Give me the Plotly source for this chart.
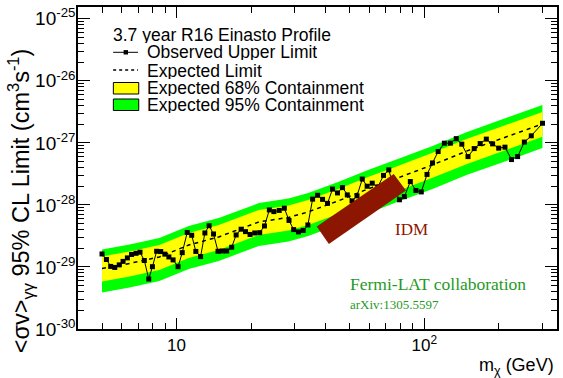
import plotly.graph_objects as go

# Observed 95% CL upper limit on <sigma v>_{gamma gamma} (cm^3 s^-1) vs WIMP mass (GeV)
obs_mass = [5.00, 5.21, 5.42, 5.63, 5.87, 6.08, 6.33, 6.58, 6.86, 7.12,
            7.41, 7.72, 7.99, 8.31, 8.63, 8.97, 9.31, 9.68, 10.14, 10.54,
            11.04, 11.51, 11.96, 12.50, 13.01, 13.53, 14.10, 14.70, 15.29, 15.93,
            16.69, 17.40, 18.22, 18.98, 19.80, 20.68, 21.66, 22.64, 23.69, 24.71,
            25.97, 27.23, 28.44, 29.70, 31.05, 32.45, 33.89, 35.42, 37.10, 38.85,
            40.69, 42.61, 44.63, 46.73, 48.90, 51.11, 53.52, 56.21, 58.81, 61.65,
            64.97, 68.48, 71.92, 75.31, 79.38, 83.13, 87.86, 92.53, 97.27, 102.6,
            108.0, 113.8, 120.6, 127.5, 134.7, 141.8, 150.2, 159.1, 168.2, 178.1,
            188.8, 199.8, 211.8, 225.1, 238.2, 253.6, 270.5, 300.3]
obs_limit = [1.62e-29, 1.32e-29, 1.02e-29, 9.82e-30, 1.08e-29, 1.23e-29, 1.40e-29, 1.59e-29, 1.66e-29, 1.73e-29,
             1.27e-29, 6.39e-30, 1.01e-29, 1.79e-29, 1.77e-29, 1.61e-29, 1.45e-29, 1.30e-29, 1.01e-29, 1.70e-29,
             3.60e-29, 3.24e-29, 1.78e-29, 1.47e-29, 3.53e-29, 4.62e-29, 3.40e-29, 1.79e-29, 1.81e-29, 1.81e-29,
             2.08e-29, 3.28e-29, 4.06e-29, 3.71e-29, 3.34e-29, 3.53e-29, 3.57e-29, 4.58e-29, 8.30e-29, 7.80e-29,
             8.15e-29, 8.85e-29, 5.62e-29, 4.00e-29, 3.67e-29, 3.88e-29, 4.75e-29, 1.24e-28, 1.43e-28, 1.23e-28,
             1.06e-28, 1.80e-28, 1.56e-28, 1.90e-28, 1.45e-28, 1.16e-28, 1.40e-28, 2.61e-28, 2.00e-28, 2.24e-28,
             1.95e-28, 2.99e-28, 3.67e-28, 1.88e-28, 1.21e-28, 1.36e-28, 2.38e-28, 1.71e-28, 1.62e-28, 3.10e-28,
             4.75e-28, 7.25e-28, 9.89e-28, 9.89e-28, 1.17e-27, 9.53e-28, 6.01e-28, 8.09e-28, 9.75e-28, 1.15e-27,
             9.64e-28, 8.22e-28, 8.53e-28, 5.38e-28, 6.01e-28, 1.03e-27, 1.30e-27, 2.07e-27]

# Expected limit and containment bands
band_mass = [5.0, 6.46, 8.52, 11.2, 14.8, 18.7, 21.5, 28.3, 34.0, 44.9, 59.3, 78.2, 108, 149, 197, 300]
expected = [9.46e-30, 1.14e-29, 1.45e-29, 2.26e-29, 3.05e-29, 4.34e-29, 5.32e-29, 6.28e-29,
            7.71e-29, 1.16e-28, 1.81e-28, 2.72e-28, 4.42e-28, 7.43e-28, 1.10e-27, 2.02e-27]
hi68 = [1.48e-29, 1.78e-29, 2.26e-29, 3.53e-29, 4.76e-29, 6.77e-29, 8.30e-29, 9.80e-29,
        1.20e-28, 1.81e-28, 2.82e-28, 4.24e-28, 6.90e-28, 1.16e-27, 1.72e-27, 3.15e-27]
lo68 = [5.84e-30, 7.03e-30, 8.95e-30, 1.39e-29, 1.88e-29, 2.68e-29, 3.28e-29, 3.87e-29,
        4.76e-29, 7.16e-29, 1.12e-28, 1.68e-28, 2.73e-28, 4.58e-28, 6.79e-28, 1.25e-27]
hi95 = [1.91e-29, 2.30e-29, 2.93e-29, 4.57e-29, 6.16e-29, 8.77e-29, 1.07e-28, 1.27e-28,
        1.56e-28, 2.34e-28, 3.66e-28, 5.49e-28, 8.93e-28, 1.50e-27, 2.22e-27, 4.08e-27]
lo95 = [3.88e-30, 4.67e-30, 5.95e-30, 9.27e-30, 1.25e-29, 1.78e-29, 2.18e-29, 2.57e-29,
        3.16e-29, 4.76e-29, 7.42e-29, 1.12e-28, 1.81e-28, 3.05e-28, 4.51e-28, 8.28e-28]

# IDM region (corners of the tilted box)
idm_mass = [36.8, 41.2, 84.4, 75.3]
idm_sigv = [4.47e-29, 2.35e-29, 1.70e-28, 3.16e-28]

y_ticks = [1e-30, 1e-29, 1e-28, 1e-27, 1e-26, 1e-25]
y_tick_text = ["10<sup>-30</sup>", "10<sup>-29</sup>", "10<sup>-28</sup>",
               "10<sup>-27</sup>", "10<sup>-26</sup>", "10<sup>-25</sup>"]
x_ticks = [10, 100]
x_tick_text = ["10", "10<sup>2</sup>"]

GREEN = "#00ff00"
YELLOW = "#ffff00"
IDM_RED = "#8c1600"
TEXT_GREEN = "#1f9a1f"
SANS = "Liberation Sans, Arial, Helvetica, sans-serif"
SERIF = "Liberation Serif, Times New Roman, serif"

fig = go.Figure()

fig.add_trace(go.Scatter(x=band_mass, y=lo95, mode="lines", line=dict(width=0, color=GREEN),
                         showlegend=False, hoverinfo="skip"))
fig.add_trace(go.Scatter(x=band_mass, y=hi95, mode="lines", line=dict(width=0, color=GREEN),
                         fill="tonexty", fillcolor=GREEN, showlegend=False, hoverinfo="skip"))
fig.add_trace(go.Scatter(x=band_mass, y=lo68, mode="lines", line=dict(width=0, color=YELLOW),
                         showlegend=False, hoverinfo="skip"))
fig.add_trace(go.Scatter(x=band_mass, y=hi68, mode="lines", line=dict(width=0, color=YELLOW),
                         fill="tonexty", fillcolor=YELLOW, showlegend=False, hoverinfo="skip"))
fig.add_trace(go.Scatter(x=band_mass, y=expected, mode="lines",
                         line=dict(color="black", width=1.5, dash="4px,4px"), showlegend=False))
fig.add_trace(go.Scatter(x=obs_mass, y=obs_limit, mode="lines+markers",
                         line=dict(color="black", width=1),
                         marker=dict(symbol="square", size=5, color="black"), showlegend=False))
fig.add_trace(go.Scatter(x=idm_mass + idm_mass[:1], y=idm_sigv + idm_sigv[:1], mode="lines",
                         fill="toself", fillcolor=IDM_RED, line=dict(width=0, color=IDM_RED),
                         showlegend=False))

# plot area in pixels: x 78..559, y 7..329
L, R, T, B = 78, 559, 7, 329


def px(xp):
    return (xp - L) / (R - L)


def py(yp):
    return (B - yp) / (B - T)


minor_y = [m * 10.0 ** e for e in range(-30, -24) for m in range(2, 10)]
minor_x = [m * 10.0 ** e for e in range(0, 3) for m in range(2, 10)]

fig.update_xaxes(type="log", range=[0.602, 2.536], tickmode="array", tickvals=x_ticks,
                 ticktext=x_tick_text, ticks="inside", ticklen=11, tickwidth=1, tickcolor="black",
                 showline=True, linecolor="black", linewidth=1.5, mirror="allticks",
                 showgrid=False, zeroline=False,
                 tickfont=dict(family=SANS, size=17, color="black"),
                 minor=dict(tickmode="array", tickvals=minor_x, ticks="inside", ticklen=6,
                            tickwidth=1, tickcolor="black", showgrid=False))
fig.update_yaxes(type="log", range=[-30, -24.81], tickmode="array", tickvals=y_ticks,
                 ticktext=y_tick_text, ticks="inside", ticklen=12, tickwidth=1, tickcolor="black",
                 showline=True, linecolor="black", linewidth=1.5, mirror="allticks",
                 showgrid=False, zeroline=False, ticklabelstandoff=-3,
                 tickfont=dict(family=SANS, size=19, color="black"),
                 minor=dict(tickmode="array", tickvals=minor_y, ticks="inside", ticklen=6,
                            tickwidth=1, tickcolor="black", showgrid=False))

legend_font = dict(family=SANS, size=17.5, color="black")
annotations = [
    dict(text="3.7 year R16 Einasto Profile", x=px(111.5), y=py(34.5), xanchor="left", yanchor="middle",
         font=legend_font, height=17),
    dict(text="Observed Upper Limit", x=px(145), y=py(52), xanchor="left", yanchor="middle",
         font=legend_font, height=17),
    dict(text="Expected Limit", x=px(145), y=py(70), xanchor="left", yanchor="middle",
         font=legend_font, height=17),
    dict(text="Expected 68% Containment", x=px(145), y=py(87.5), xanchor="left", yanchor="middle",
         font=legend_font, height=17),
    dict(text="Expected 95% Containment", x=px(145), y=py(104.5), xanchor="left", yanchor="middle",
         font=legend_font, height=17),
    dict(text="IDM", x=px(413), y=py(229), xanchor="center", yanchor="middle",
         font=dict(family=SERIF, size=17, color=IDM_RED)),
    dict(text="Fermi-LAT collaboration", x=px(349), y=py(283.5), xanchor="left", yanchor="middle",
         font=dict(family=SERIF, size=17.5, color=TEXT_GREEN), height=18),
    dict(text="arXiv:1305.5597", x=px(349), y=py(303.5), xanchor="left", yanchor="middle",
         font=dict(family=SERIF, size=13, color=TEXT_GREEN), height=14),
    dict(text="m<sub>χ</sub> (GeV)", x=px(558), y=py(366), xanchor="right", yanchor="middle",
         font=dict(family=SANS, size=18, color="black")),
    dict(text="&lt;σv&gt;<sub>γγ</sub> 95% CL Limit (cm<sup>3</sup>s<sup>-1</sup>)",
         x=px(20), y=py(201), xanchor="center", yanchor="middle", textangle=-90,
         font=dict(family=SANS, size=23.5, color="black")),
]
for a in annotations:
    a.update(xref="paper", yref="paper", showarrow=False)

shapes = [
    # observed-limit legend symbol
    dict(type="line", x0=px(113.3), x1=px(138.3), y0=py(52.3), y1=py(52.3),
         line=dict(color="black", width=1)),
    dict(type="rect", x0=px(123.8), x1=px(128.2), y0=py(54.5), y1=py(50.1),
         fillcolor="black", line=dict(width=0)),
    # expected-limit legend symbol
    dict(type="line", x0=px(113.3), x1=px(138.3), y0=py(70), y1=py(70),
         line=dict(color="black", width=1.5, dash="3px,3px")),
    # containment legend boxes
    dict(type="rect", x0=px(113.5), x1=px(139), y0=py(94), y1=py(82.5),
         fillcolor=YELLOW, line=dict(color="black", width=1)),
    dict(type="rect", x0=px(113.5), x1=px(139), y0=py(110.5), y1=py(99),
         fillcolor=GREEN, line=dict(color="black", width=1)),
]
for s in shapes:
    s.update(xref="paper", yref="paper")

fig.update_layout(width=563, height=378, margin=dict(l=L, r=563 - R, t=T, b=378 - B),
                  paper_bgcolor="white", plot_bgcolor="white", showlegend=False,
                  annotations=annotations, shapes=shapes)

fig.write_html("out.html")
